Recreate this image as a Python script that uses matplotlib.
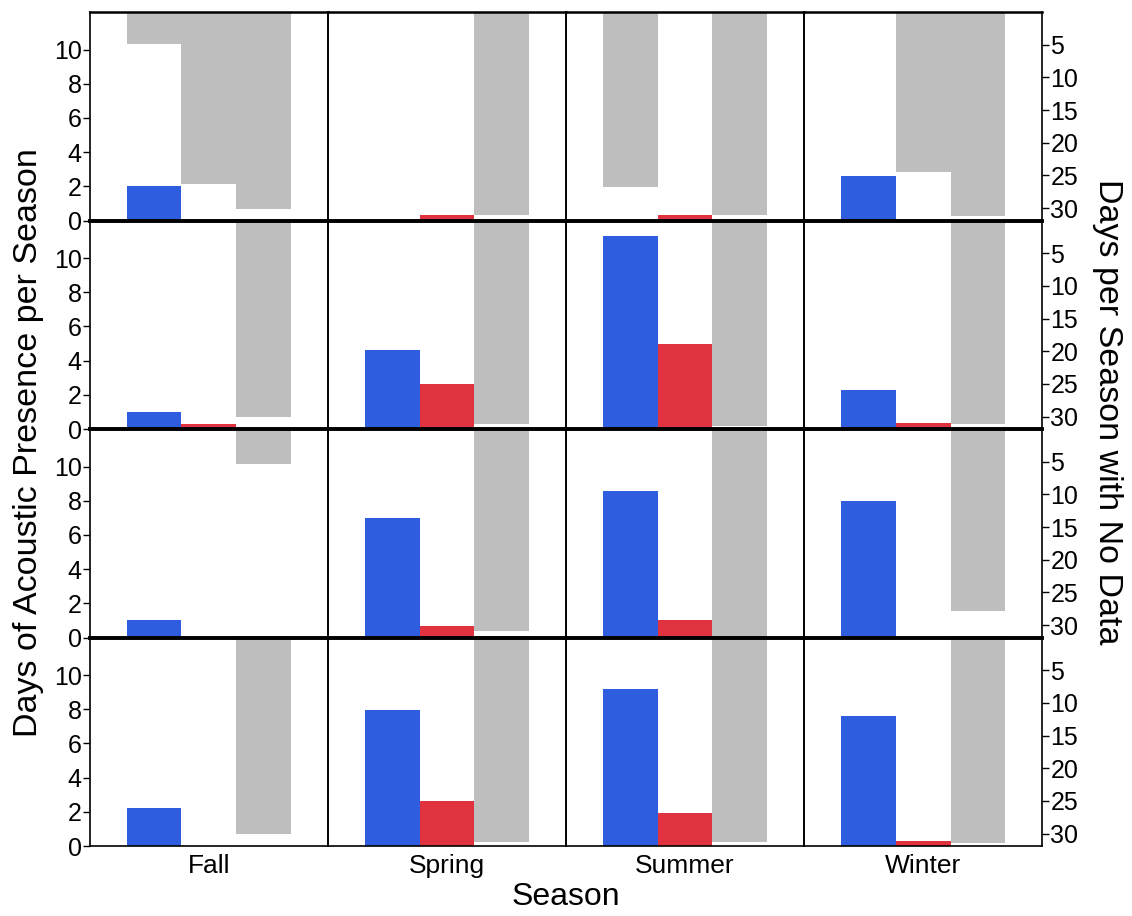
import matplotlib
matplotlib.use("Agg")
import matplotlib.pyplot as plt
import numpy as np

plt.rcParams['font.family'] = ['Liberation Sans', 'DejaVu Sans']

seasons = ["Fall", "Spring", "Summer", "Winter"]

# Days of acoustic presence per season (rows = panels top to bottom, cols = seasons)
blue_days = [
    [2.0, 0.0, 0.0, 2.6],
    [1.0, 4.6, 11.3, 2.3],
    [1.0, 7.0, 8.6, 8.0],
    [2.25, 7.95, 9.2, 7.6],
]
red_days = [
    [0.0, 0.3, 0.3, 0.0],
    [0.3, 2.65, 5.0, 0.35],
    [0.0, 0.7, 1.0, 0.0],
    [0.0, 2.65, 1.95, 0.27],
]
# Days per season with no data (grey, hanging from top; right axis)
nodata_days = [
    [30.1, 31.1, 31.1, 31.2],
    [30.1, 31.2, 31.5, 31.2],
    [5.3, 30.9, 31.6, 27.9],
    [30.1, 31.3, 31.3, 31.4],
]
# extra grey no-data bars drawn at the blue and red positions
nodata_slot1 = [
    [4.9, 0.0, 26.8, 0.0],
    [0.0, 0.0, 0.0, 0.0],
    [0.0, 0.0, 0.0, 0.0],
    [0.0, 0.0, 0.0, 0.0],
]
nodata_slot2 = [
    [26.3, 0.0, 0.0, 24.5],
    [0.0, 0.0, 0.0, 0.0],
    [0.0, 0.0, 0.0, 0.0],
    [0.0, 0.0, 0.0, 0.0],
]

left_ticks = [0, 2, 4, 6, 8, 10]
right_ticks = [5, 10, 15, 20, 25, 30]

BLUE = "#2f5de0"
RED = "#e0323f"
GREY = "#bebebe"

fig = plt.figure(figsize=(11.32, 9.16), dpi=100)
gs = fig.add_gridspec(4, 4, left=0.0795, right=0.9205, top=0.9869, bottom=0.0764,
                      wspace=0, hspace=0)

x = np.arange(3)
for r in range(4):
    for c in range(4):
        ax = fig.add_subplot(gs[r, c])
        ax2 = ax.twinx()
        # grey (no data) on twin axis, behind
        ax2.bar(x, [nodata_slot1[r][c], nodata_slot2[r][c], nodata_days[r][c]],
                width=1.0, color=GREY, bottom=0)
        ax2.set_ylim(31.9, 0)
        ax.bar(x[0], blue_days[r][c], width=1.0, color=BLUE)
        ax.bar(x[1], red_days[r][c], width=1.0, color=RED)
        ax.set_ylim(0, 12.2)
        ax.set_xlim(-1.164, 3.164)
        ax.set_zorder(ax2.get_zorder() + 1)
        ax.patch.set_visible(False)

        for s in ax2.spines.values():
            s.set_visible(False)
        for name, s in ax.spines.items():
            s.set_color("black")
            s.set_linewidth(1.2)
        if r < 3:
            ax.spines['bottom'].set_linewidth(2.6)
        if r > 0:
            ax.spines['top'].set_linewidth(2.6)
        else:
            ax.spines['top'].set_linewidth(1.8)

        # left ticks
        ax.set_yticks(left_ticks)
        if c == 0:
            ax.tick_params(axis='y', left=True, labelleft=True, direction='out',
                           length=5, width=1, labelsize=18, pad=1)
        else:
            ax.tick_params(axis='y', left=False, labelleft=False)
        # right ticks
        ax2.set_yticks(right_ticks)
        if c == 3:
            ax2.tick_params(axis='y', right=True, labelright=True, direction='out',
                            length=5, width=1, labelsize=18, pad=1)
        else:
            ax2.tick_params(axis='y', right=False, labelright=False)
        # x ticks
        if r == 3:
            ax.set_xticks([1])
            ax.set_xticklabels([seasons[c]])
            ax.tick_params(axis='x', length=0, labelsize=19, pad=6)
        else:
            ax.set_xticks([])

fig.text(0.5, 0.021, "Season", ha='center', va='center', fontsize=23)
fig.text(0.025, 0.517, "Days of Acoustic Presence per Season", rotation=90,
         ha='center', va='center', fontsize=24.5)
fig.text(0.978, 0.55, "Days per Season with No Data", rotation=270,
         ha='center', va='center', fontsize=24.5)

fig.savefig("out.png", dpi=100)
